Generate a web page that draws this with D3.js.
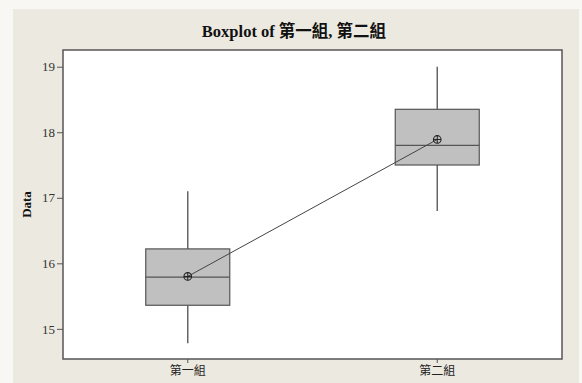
<!DOCTYPE html>
<html>
<head>
<meta charset="utf-8">
<script src="https://cdn.jsdelivr.net/npm/d3@7"></script>
<style>
  body { margin: 0; background: #f8f7f3; }
  svg text { font-family: "Liberation Serif", "Noto Sans CJK TC", serif; }
</style>
</head>
<body>
<svg id="chart" width="582" height="383"></svg>
<script>
// values
var groups = ["第一組", "第二組"];
var q1 = [15.36, 17.5];
var median = [15.79, 17.8];
var q3 = [16.22, 18.35];
var whiskLow = [14.78, 16.8];
var whiskHigh = [17.1, 19.0];
var means = [15.8, 17.89];
var yTicks = [15, 16, 17, 18, 19];

var W = 582, H = 383;
var plot = { left: 63, right: 562, top: 50, bottom: 359 };

var svg = d3.select("#chart");

// beige panel
svg.append("rect")
    .attr("x", 13).attr("y", 9)
    .attr("width", 566).attr("height", H - 9)
    .style("fill", "#ece9e0");

var x = d3.scaleBand()
    .domain(groups)
    .range([plot.left, plot.right])
    .padding(0);

var y = d3.scaleLinear()
    .domain([14.54, 19.255])
    .range([plot.bottom, plot.top]);

svg.append("rect")
    .attr("x", plot.left).attr("y", plot.top)
    .attr("width", plot.right - plot.left)
    .attr("height", plot.bottom - plot.top)
    .style("fill", "white")
    .style("stroke", "#555")
    .style("stroke-width", 1.5);

// title
svg.append("text")
    .attr("x", 294).attr("y", 37)
    .attr("text-anchor", "middle")
    .style("font-size", "16.5px")
    .style("font-weight", "bold")
    .style("fill", "#111")
    .text("Boxplot of 第一組, 第二組");

// y axis
var yAxis = d3.axisLeft(y).tickValues(yTicks).tickFormat(d3.format("d")).tickSize(6).tickPadding(2);
var gy = svg.append("g")
    .attr("transform", "translate(" + plot.left + ",0)")
    .call(yAxis);
gy.select(".domain").remove();
gy.selectAll("line").style("stroke", "#555");
gy.selectAll("text")
    .style("font-size", "13px")
    .style("fill", "#333")
    .style("font-family", "Liberation Serif, serif");

svg.append("text")
    .attr("transform", "translate(31," + ((plot.top + plot.bottom) / 2) + ") rotate(-90)")
    .attr("text-anchor", "middle")
    .style("font-size", "13px")
    .style("font-weight", "bold")
    .style("fill", "#111")
    .text("Data");

// x axis
var xAxis = d3.axisBottom(x).tickSize(4).tickPadding(3);
var gx = svg.append("g")
    .attr("transform", "translate(0," + plot.bottom + ")")
    .call(xAxis);
gx.select(".domain").remove();
gx.selectAll("line").style("stroke", "#555");
gx.selectAll("text")
    .style("font-size", "12px")
    .style("fill", "#222")
    .style("font-family", "Noto Sans CJK TC, sans-serif");

var boxW = 84;
var cx = function(i) { return x(groups[i]) + x.bandwidth() / 2; };

var g = svg.append("g");
groups.forEach(function(name, i) {
    // whiskers
    g.append("line")
        .attr("x1", cx(i)).attr("x2", cx(i))
        .attr("y1", y(whiskHigh[i])).attr("y2", y(q3[i]))
        .style("stroke", "#666").style("stroke-width", 1.5);
    g.append("line")
        .attr("x1", cx(i)).attr("x2", cx(i))
        .attr("y1", y(q1[i])).attr("y2", y(whiskLow[i]))
        .style("stroke", "#666").style("stroke-width", 1.5);
    // box
    g.append("rect")
        .attr("x", cx(i) - boxW / 2)
        .attr("y", y(q3[i]))
        .attr("width", boxW)
        .attr("height", y(q1[i]) - y(q3[i]))
        .style("fill", "#c0c0c0")
        .style("stroke", "#555")
        .style("stroke-width", 1.2);
    g.append("line")
        .attr("x1", cx(i) - boxW / 2).attr("x2", cx(i) + boxW / 2)
        .attr("y1", y(median[i])).attr("y2", y(median[i]))
        .style("stroke", "#555").style("stroke-width", 1.2);
});

// mean connect line
var line = d3.line()
    .x(function(d, i) { return cx(i); })
    .y(function(d) { return y(d); });
g.append("path")
    .attr("d", line(means))
    .style("fill", "none")
    .style("stroke", "#444")
    .style("stroke-width", 1);

// mean symbols
means.forEach(function(m, i) {
    var s = g.append("g").attr("transform", "translate(" + cx(i) + "," + y(m) + ")");
    s.append("circle").attr("r", 3.8)
        .style("fill", "none").style("stroke", "#222").style("stroke-width", 1.1);
    s.append("line").attr("x1", -3.8).attr("x2", 3.8)
        .style("stroke", "#222").style("stroke-width", 1);
    s.append("line").attr("y1", -3.8).attr("y2", 3.8)
        .style("stroke", "#222").style("stroke-width", 1);
});
</script>
</body>
</html>
